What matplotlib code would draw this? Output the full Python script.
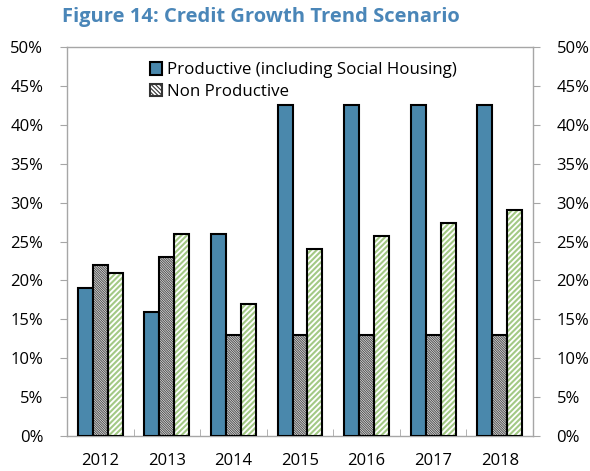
import matplotlib.pyplot as plt
import numpy as np
from matplotlib.patches import Patch

plt.rcParams['font.family'] = ['Open Sans', 'DejaVu Sans']

# data
years = ['2012', '2013', '2014', '2015', '2016', '2017', '2018']
productive = [19, 16, 26, 42.5, 42.5, 42.5, 42.5]
non_productive = [22, 23, 13, 13, 13, 13, 13]
third = [21, 26, 17, 24, 25.7, 27.4, 29.1]
yticks = [0, 5, 10, 15, 20, 25, 30, 35, 40, 45, 50]

blue = '#4A88AC'
green = '#A3C985'
hatch_gray = '#555555'
axis_gray = '#A6A6A6'

fig = plt.figure(figsize=(5.9, 4.71), dpi=100)
ax = fig.add_axes([67 / 590, 35 / 471, 466 / 590, 389 / 471])

x = np.arange(len(years))
w = 0.225

ax.bar(x - w, productive, w, color=blue, edgecolor='black', linewidth=1.5,
       zorder=3)

plt.rcParams['hatch.linewidth'] = 0.8
ax.bar(x, non_productive, w, color='white', edgecolor=hatch_gray,
       hatch='\\' * 14, linewidth=0, zorder=3)
ax.bar(x, non_productive, w, fill=False, edgecolor='black', linewidth=1.5, zorder=4)

plt.rcParams['hatch.linewidth'] = 1.5
ax.bar(x + w, third, w, color='white', edgecolor=green, hatch='/' * 6,
       linewidth=0, zorder=3)
ax.bar(x + w, third, w, fill=False, edgecolor='black', linewidth=1.5, zorder=4)

# legend proxies
plt.rcParams['hatch.linewidth'] = 0.8
handles = [Patch(facecolor=blue, edgecolor='black', linewidth=1.5,
                 label='Productive (including Social Housing)'),
           Patch(facecolor='white', edgecolor='#333333', hatch='\\' * 8,
                 linewidth=1.5, label='Non Productive')]
ax.legend(handles=handles, loc='upper left', bbox_to_anchor=(0.163, 0.978),
          frameon=False, fontsize=12.2, handlelength=0.75, handleheight=0.75,
          handletextpad=0.25, labelspacing=0.3, borderaxespad=0)

ax.set_xlim(-0.5, len(years) - 0.5)
ax.set_ylim(0, 50)
ax.set_yticks(yticks)
ax.set_yticklabels([f'{t}%' for t in yticks], fontsize=12)
ax.set_xticks(x)
ax.set_xticklabels(years, fontsize=12)
ax.set_xticks(np.arange(len(years) + 1) - 0.5, minor=True)
ax.tick_params(axis='x', which='major', length=0, pad=12)
ax.tick_params(axis='x', which='minor', direction='in', length=5, color=axis_gray)
ax.tick_params(axis='y', direction='out', length=5, color=axis_gray,
               right=True, labelright=True, pad=12)
for s in ax.spines.values():
    s.set_color(axis_gray)
    s.set_linewidth(1)

fig.text(62 / 590, 1 - 17 / 471, 'Figure 14: Credit Growth Trend Scenario',
         fontsize=14.5, fontweight='bold', color='#4A86B8', va='center', ha='left')

fig.savefig('out.png', dpi=100)
